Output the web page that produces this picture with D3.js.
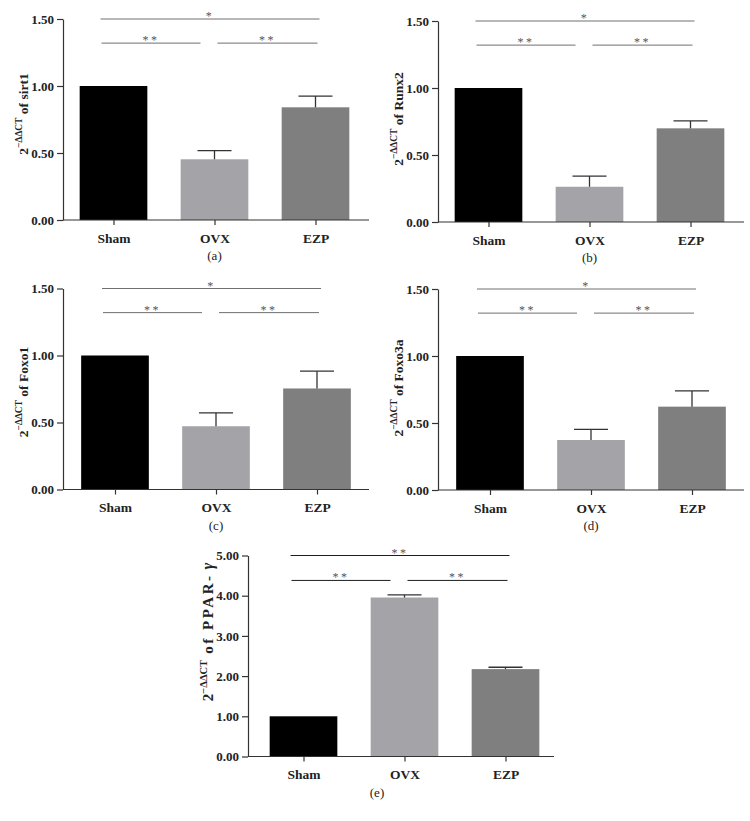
<!DOCTYPE html>
<html><head><meta charset="utf-8">
<script src="https://cdn.jsdelivr.net/npm/d3@7"></script>
<style>body{margin:0;background:#fff} svg{display:block}</style>
</head><body>
<svg id="chart" width="750" height="821"></svg>
<script>
const categories = ["Sham", "OVX", "EZP"];
const sirt1Values = [1.00, 0.453, 0.841];
const sirt1Errors = [0, 0.064, 0.084];
const runx2Values = [1.00, 0.263, 0.699];
const runx2Errors = [0, 0.080, 0.055];
const foxo1Values = [1.00, 0.472, 0.754];
const foxo1Errors = [0, 0.100, 0.129];
const foxo3aValues = [1.00, 0.373, 0.622];
const foxo3aErrors = [0, 0.080, 0.117];
const ppargValues = [1.00, 3.955, 2.174];
const ppargErrors = [0, 0.065, 0.046];
const smallTicks = [0, 0.5, 1.0, 1.5];
const largeTicks = [0, 1, 2, 3, 4, 5];
const geneNames = ["sirt1", "Runx2", "Foxo1", "Foxo3a", "PPAR-"];
const panelLetters = ["(a)", "(b)", "(c)", "(d)", "(e)"];
const sigPairs = [[0, 2], [0, 1], [1, 2]];
const sigSmall = ["*", "**", "**"];
const sigLarge = ["**", "**", "**"];
const sigLevelsSmall = [1.50, 1.32, 1.32];
const sigLevelsLarge = [5.00, 4.38, 4.38];

const barColors = ["#000000", "#a3a3a8", "#7f7f7f"];
const serif = "'Liberation Serif', 'DejaVu Serif', serif";

const panels = [
  {values: sirt1Values, errors: sirt1Errors, ticks: smallTicks, max: 1.5, sig: sigSmall, levels: sigLevelsSmall,
   left: 63, y0: 220, yTop: 19, xPad: 0, labelY: 114, letterX: null, sigColor: "#707070", spacing: 0, labelSize: 13.5},
  {values: runx2Values, errors: runx2Errors, ticks: smallTicks, max: 1.5, sig: sigSmall, levels: sigLevelsSmall,
   left: 438, y0: 222, yTop: 21, xPad: 0, labelY: 119, letterX: null, sigColor: "#707070", spacing: 0, labelSize: 13.5},
  {values: foxo1Values, errors: foxo1Errors, ticks: smallTicks, max: 1.5, sig: sigSmall, levels: sigLevelsSmall,
   left: 63, y0: 489.5, yTop: 288.5, xPad: 1.5, labelY: 392, letterX: null, sigColor: "#707070", spacing: 0, labelSize: 13.5},
  {values: foxo3aValues, errors: foxo3aErrors, ticks: smallTicks, max: 1.5, sig: sigSmall, levels: sigLevelsSmall,
   left: 438, y0: 490, yTop: 289, xPad: 1.5, labelY: 388, letterX: null, sigColor: "#707070", spacing: 0, labelSize: 13.5},
  {values: ppargValues, errors: ppargErrors, ticks: largeTicks, max: 5, sig: sigLarge, levels: sigLevelsLarge,
   left: 248, y0: 756.5, yTop: 555.5, xPad: 5, labelY: 632, letterX: 377, sigColor: "#1e1e1e", spacing: 2.5, labelSize: 15}
];

const svg = d3.select("#chart");
const sigOffsets = [[-13, 4], [-12, -14], [3, 2]];

panels.forEach((p, i) => {
  const g = svg.append("g");
  const y = d3.scaleLinear().domain([0, p.max]).range([p.y0, p.yTop]);
  const x = d3.scalePoint().domain(categories).range([p.left + p.xPad, p.left + p.xPad + 303]).padding(0.5);
  const step = x.step();
  const bw = step * 0.67;

  // bars
  g.selectAll("rect.bar").data(categories).enter().append("rect")
    .attr("x", d => x(d) - bw / 2)
    .attr("width", bw)
    .attr("y", (d, k) => y(p.values[k]))
    .attr("height", (d, k) => p.y0 - y(p.values[k]))
    .attr("fill", (d, k) => barColors[k]);

  // error bars (upper only)
  categories.forEach((c, k) => {
    if (p.errors[k] > 0) {
      const top = y(p.values[k] + p.errors[k]);
      g.append("line").attr("x1", x(c)).attr("x2", x(c))
        .attr("y1", y(p.values[k])).attr("y2", top)
        .attr("stroke", "#333").attr("stroke-width", 1.3);
      g.append("line").attr("x1", x(c) - 17).attr("x2", x(c) + 17)
        .attr("y1", top).attr("y2", top)
        .attr("stroke", "#333").attr("stroke-width", 1.3);
    }
  });

  // y axis
  const yAxis = d3.axisLeft(y).tickValues(p.ticks).tickFormat(d3.format(".2f"))
    .tickSize(6).tickSizeOuter(0).tickPadding(3);
  const ya = g.append("g").attr("transform", `translate(${p.left},0)`).call(yAxis);
  ya.select(".domain").attr("stroke", "#333").attr("stroke-width", 1.2);
  ya.selectAll(".tick line").attr("stroke", "#333").attr("stroke-width", 1.2);
  ya.selectAll(".tick text").attr("font-family", serif).attr("font-weight", "bold")
    .attr("font-size", "13px").attr("fill", "#222");

  // x axis
  const xAxis = d3.axisBottom(x).tickSize(5).tickSizeOuter(0).tickPadding(8);
  const xa = g.append("g").attr("transform", `translate(0,${p.y0})`).call(xAxis);
  xa.select(".domain").remove();
  xa.append("line").attr("x1", p.left).attr("x2", p.left + 306).attr("y1", 0).attr("y2", 0)
    .attr("stroke", "#333").attr("stroke-width", 1.2);
  xa.selectAll(".tick line").attr("stroke", "#333").attr("stroke-width", 1.2);
  xa.selectAll(".tick text").attr("font-family", serif).attr("font-weight", "bold")
    .attr("font-size", "13.5px").attr("fill", "#222");

  // y label
  const lab = g.append("text")
    .attr("transform", `translate(${p.left - 35},${p.labelY}) rotate(-90)`)
    .attr("text-anchor", "middle")
    .attr("font-family", serif).attr("font-weight", "bold").attr("font-size", p.labelSize + "px").attr("fill", "#222");
  lab.append("tspan").text("2");
  lab.append("tspan").attr("font-size", (p.labelSize * 0.7) + "px").attr("dy", -6).text("\u2212\u0394\u0394CT");
  lab.append("tspan").attr("dy", 6).attr("letter-spacing", p.spacing + "px").text(" of " + geneNames[i]);
  if (i === 4) lab.append("tspan").attr("font-style", "italic").attr("font-size", "16px").text(" \u03b3");

  // significance
  sigPairs.forEach((pr, s) => {
    const ly = y(p.levels[s]);
    const x1 = x(categories[pr[0]]) + sigOffsets[s][0];
    const x2 = x(categories[pr[1]]) + sigOffsets[s][1];
    g.append("line").attr("x1", x1).attr("x2", x2).attr("y1", ly).attr("y2", ly)
      .attr("stroke", p.sigColor).attr("stroke-width", 1);
    g.append("text").attr("x", (x1 + x2) / 2).attr("y", ly + 1)
      .attr("text-anchor", "middle").attr("font-family", serif).attr("font-size", "12px")
      .attr("letter-spacing", "2.5px").attr("fill", "#555").text(p.sig[s]);
  });

  // panel letter
  g.append("text").attr("x", p.letterX !== null ? p.letterX : x("OVX"))
    .attr("y", p.y0 + 40).attr("text-anchor", "middle")
    .attr("font-family", serif).attr("font-size", "13px").attr("fill", "#222")
    .text(panelLetters[i]);
});
</script>
</body></html>
